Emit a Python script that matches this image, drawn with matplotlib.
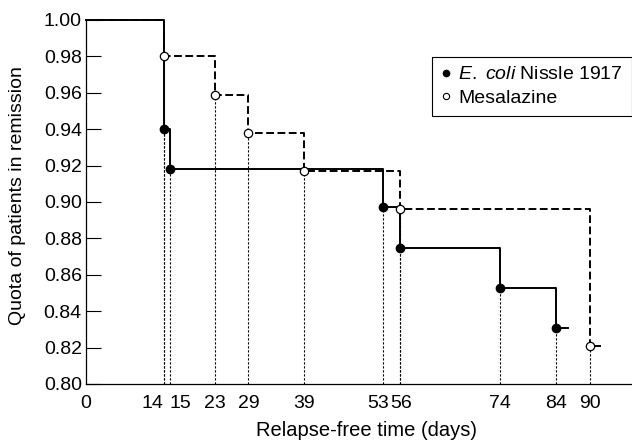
import matplotlib
matplotlib.use('Agg')
import matplotlib.pyplot as plt
import matplotlib.transforms as mtransforms

plt.rcParams['font.family'] = ['Liberation Sans', 'DejaVu Sans']
plt.rcParams['mathtext.fontset'] = 'custom'
plt.rcParams['mathtext.rm'] = 'Liberation Sans'
plt.rcParams['mathtext.it'] = 'Liberation Sans:italic'

# Kaplan-Meier style relapse-free curves
ecoli_days = [0, 14, 15, 53, 56, 74, 84]
ecoli_quota = [1.00, 0.94, 0.918, 0.897, 0.875, 0.853, 0.831]
ecoli_end = 86

mesal_days = [0, 14, 23, 29, 39, 56, 90]
mesal_quota = [1.00, 0.98, 0.959, 0.938, 0.917, 0.896, 0.821]
mesal_end = 92

tick_days = [0, 14, 15, 23, 29, 39, 53, 56, 74, 84, 90]
y_ticks = [0.80, 0.82, 0.84, 0.86, 0.88, 0.90, 0.92, 0.94, 0.96, 0.98, 1.00]

fig = plt.figure(figsize=(6.32, 4.41), dpi=100)
ax = fig.add_axes([86 / 632, 1 - 384 / 441, 1 - 86 / 632, (384 - 20) / 441])

# dotted drop lines from each event to the axis
for d, q in zip(ecoli_days[1:] + mesal_days[1:], ecoli_quota[1:] + mesal_quota[1:]):
    ax.plot([d, d], [0.80, q], color='black', lw=0.8, linestyle=(0, (2, 1.6)), zorder=1)

ax.step(ecoli_days + [ecoli_end], ecoli_quota + [ecoli_quota[-1]], where='post',
        color='black', lw=1.4, clip_on=False, zorder=2)
ax.step(mesal_days + [mesal_end], mesal_quota + [mesal_quota[-1]], where='post',
        color='black', lw=1.4, linestyle=(0, (4, 1.8)), clip_on=False, zorder=2)

ax.plot(ecoli_days[1:], ecoli_quota[1:], 'o', color='black', ms=6, zorder=3)
ax.plot(mesal_days[1:], mesal_quota[1:], 'o', mfc='white', mec='black', mew=0.9, ms=6, zorder=3)

ax.set_xlim(0, 97.5)
ax.set_ylim(0.80, 1.00)
ax.set_xticks(tick_days)
ax.set_xticklabels([str(d) for d in tick_days])
ax.set_yticks(y_ticks)
ax.set_yticklabels([f'{v:.2f}' for v in y_ticks])
ax.tick_params(axis='x', length=0, pad=8, labelsize=14)
ax.tick_params(axis='y', direction='in', length=11, width=0.8, pad=3, labelsize=14)

# nudge the crowded 14/15 and 53/56 labels apart
labels = ax.get_xticklabels()
for lab, dx in [(labels[1], -12), (labels[2], 10), (labels[6], -5), (labels[7], 2)]:
    lab.set_transform(lab.get_transform() + mtransforms.ScaledTranslation(dx / 100, 0, fig.dpi_scale_trans))

for s in ['top', 'right']:
    ax.spines[s].set_visible(False)
for s in ['left', 'bottom']:
    ax.spines[s].set_linewidth(0.9)

ax.set_xlabel('Relapse-free time (days)', fontsize=14.5)
ax.xaxis.set_label_coords((367 - 86) / 546, -0.103)
fig.text(18 / 632, 1 - 196 / 441, 'Quota of patients in remission', rotation=90,
         ha='center', va='center', fontsize=14)

h1, = ax.plot([], [], 'o', color='black', ms=4.5)
h2, = ax.plot([], [], 'o', mfc='white', mec='black', mew=0.8, ms=4.5)
leg = ax.legend([h1, h2], [r'$\it{E.\ coli}$ Nissle 1917', 'Mesalazine'],
                loc='upper left', bbox_to_anchor=((432 - 86) / 546, (384 - 57) / 364),
                borderaxespad=0, fancybox=False, framealpha=1, edgecolor='black',
                fontsize=14, handlelength=0.5, handletextpad=0.4, borderpad=0.45,
                labelspacing=0.3)
leg.get_frame().set_linewidth(0.8)

fig.savefig('out.png', dpi=100)
